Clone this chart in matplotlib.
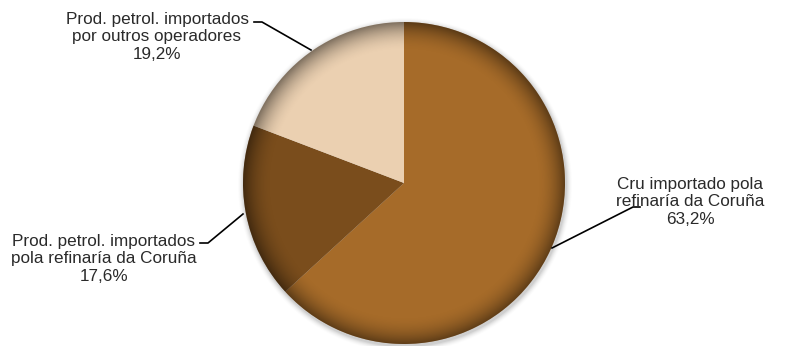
import numpy as np
import matplotlib
matplotlib.use("Agg")
import matplotlib.pyplot as plt
from matplotlib.patches import Circle

labels = ["Cru importado pola\nrefinaría da Coruña\n63,2%",
          "Prod. petrol. importados\npola refinaría da Coruña\n17,6%",
          "Prod. petrol. importados\npor outros operadores\n19,2%"]
values = [63.2, 17.6, 19.2]
colors = ["#a66b29", "#7a4d1c", "#ebd0b1"]

W, H = 792, 346
fig = plt.figure(figsize=(W / 100, H / 100), dpi=100)
ax = fig.add_axes([0, 0, 1, 1])

cx, cy, r = 404, H - 183, 161

# soft shadow
for i, a in enumerate(np.linspace(0.05, 0.01, 6)):
    ax.add_patch(Circle((cx + 1, cy - 2), r + 1 + i, color="black", alpha=a, lw=0, zorder=1))

wedges, _ = ax.pie(values, colors=colors, startangle=90, counterclock=False,
                   center=(cx, cy), radius=r, frame=True,
                   wedgeprops=dict(linewidth=0))
for w in wedges:
    w.set_zorder(2)
ax.set_xlim(0, W)
ax.set_ylim(0, H)
ax.set_aspect("equal")
ax.axis("off")

# radial darkening near the rim
yy, xx = np.mgrid[0:2 * r:1.0, 0:2 * r:1.0]
d = np.hypot(xx - r, yy - r) / r
alpha = np.clip((d - 0.82) / 0.18, 0, 1) ** 2 * 0.45
img = np.zeros((yy.shape[0], yy.shape[1], 4))
img[..., 3] = alpha
im = ax.imshow(img, extent=(cx - r, cx + r, cy - r, cy + r), zorder=3, interpolation="bilinear")
im.set_clip_path(Circle((cx, cy), r, transform=ax.transData))
ax.set_xlim(0, W)
ax.set_ylim(0, H)

font = dict(fontsize=12.3, family="Liberation Sans", color="#2a2a2a",
            ha="center", va="center", linespacing=1.22, zorder=5)

# label text positions (pixels from top) and leader lines
ax.text(690, H - 202, labels[0], **font)
ax.plot([640, 633, 552], [H - 207, H - 207, H - 248], color="black", lw=1.2, zorder=5)

ax.text(104, H - 259, labels[1], **font)
ax.plot([200, 208, 243], [H - 243, H - 243, H - 214], color="black", lw=1.2, zorder=5)

ax.text(157, H - 37, labels[2], **font)
ax.plot([254, 262, 311], [H - 22, H - 22, H - 50], color="black", lw=1.2, zorder=5)

fig.savefig("out.png", dpi=100)
